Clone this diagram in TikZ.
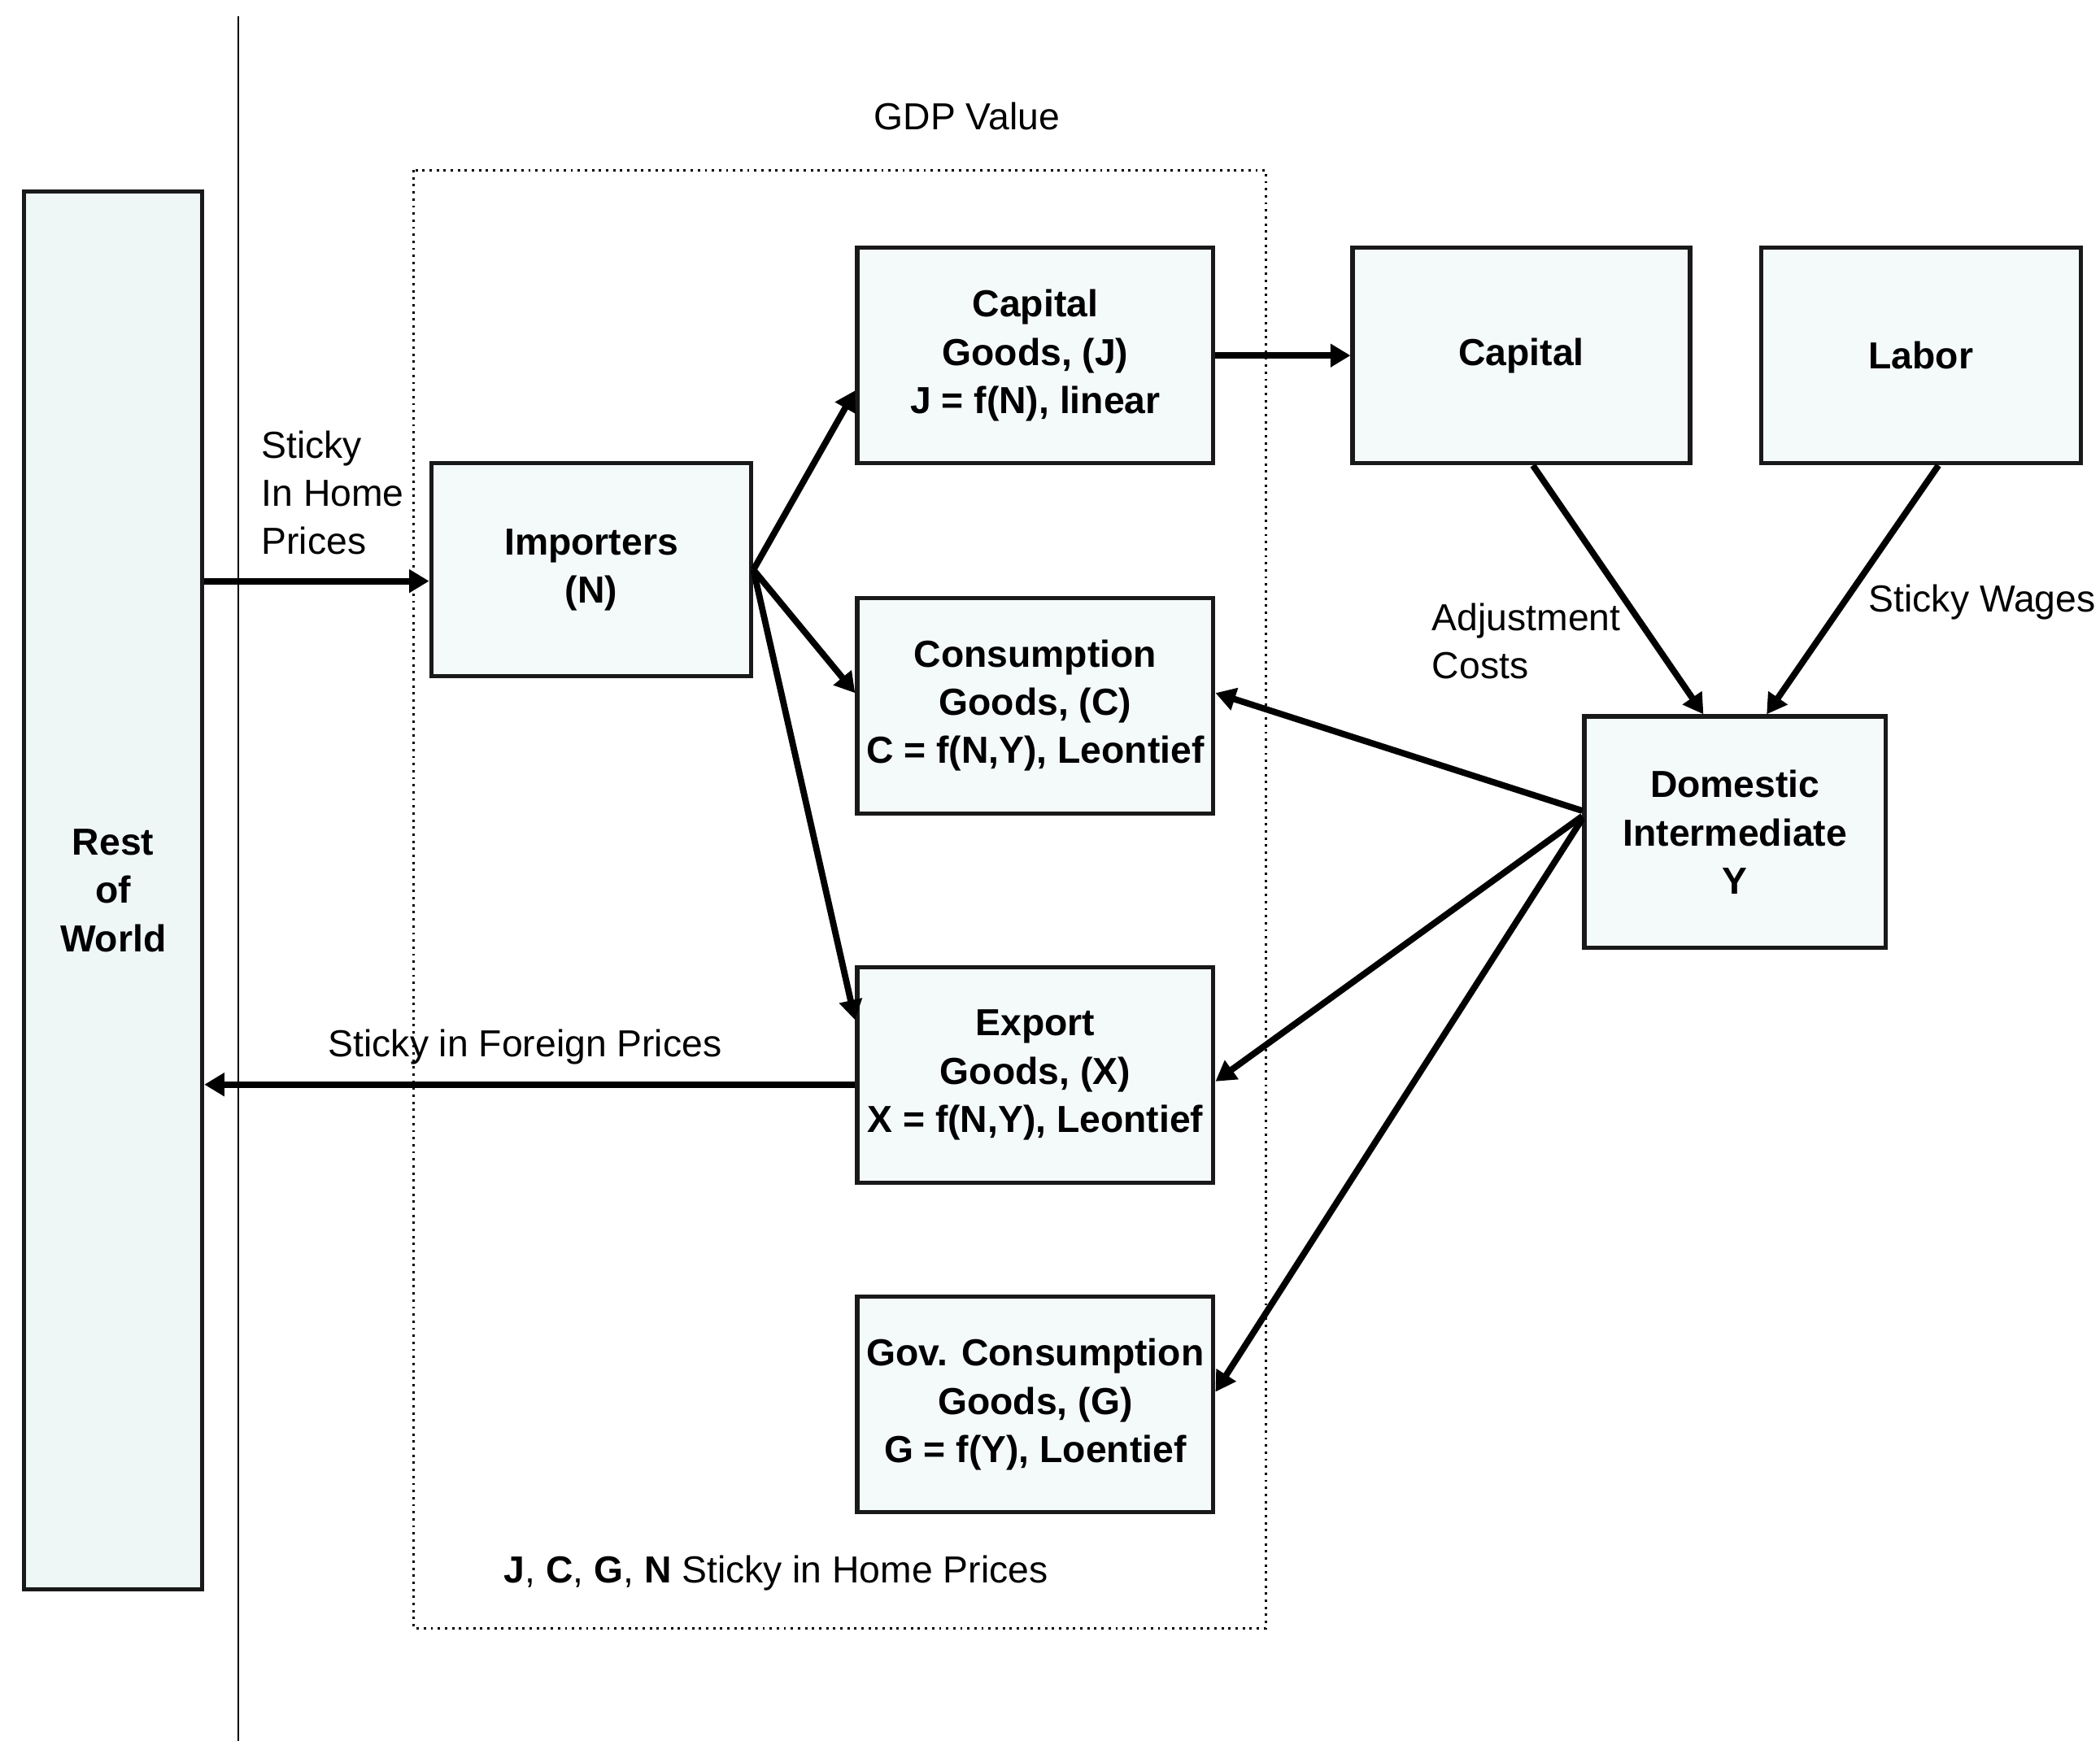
\documentclass[tikz,border=0pt]{standalone}
\usepackage{fontspec}
\setmainfont{Liberation Sans}
\usetikzlibrary{positioning,arrows.meta}
\definecolor{boxfill}{RGB}{244,249,249}
\definecolor{worldfill}{RGB}{238,246,246}
\tikzset{
	node distance=5.5cm,
	>={Triangle[length=8.5pt,width=9.5pt]},
	blok/.style={
		rectangle,
		draw=black!90,
		line width=1.8pt,
		fill=boxfill,
		align=center,
		font=\fontsize{16}{20.5}\selectfont\bfseries,
		minimum width=5.32cm,
		minimum height=3.22cm
	},
	flow/.style={->, line width=2.7pt},
	note/.style={font=\fontsize{16}{20.5}\selectfont, align=left, inner sep=0pt}
}
\begin{document}
\begin{tikzpicture}[x=0.02cm, y=-0.02cm]
	\useasboundingbox (0,0) rectangle (1568,1300);

	% border between home and foreign
	\draw[line width=0.9pt] (178,12) -- (178,1300);

	% GDP frame
	\draw[dotted, line width=1pt] (309,127) rectangle (945,1216);

	\node[blok, fill=worldfill, minimum width=2.66cm, minimum height=20.88cm] (world) at (84.5,665) {Rest\\of\\World};

	\node[blok] (capgoods) at (773,265.5) {Capital\\Goods, (J)\\J = f(N), linear};
	\node[blok, below of=capgoods, node distance=5.23cm] (consgoods) {Consumption\\Goods, (C)\\C = f(N,Y), Leontief};
	\node[blok, below of=consgoods, node distance=5.52cm] (expgoods) {Export\\Goods, (X)\\X = f(N,Y), Leontief};
	\node[blok, below of=expgoods, node distance=4.92cm] (govgoods) {Gov. Consumption\\Goods, (G)\\G = f(Y), Loentief};

	\node[blok, minimum width=4.78cm, minimum height=3.18cm] (importers) at (441.5,425.5) {Importers\\(N)};
	\node[blok, right of=capgoods, node distance=7.26cm, minimum width=5.04cm] (capital) {Capital};
	\node[blok, right of=capital, node distance=5.97cm, minimum width=4.78cm] (labor) {Labor};
	\node[blok, minimum width=4.5cm, minimum height=3.46cm] (domestic) at (1295.5,621.5) {Domestic\\Intermediate\\Y};

	\node[note] (gdplbl) at (722,87) {GDP Value};
	\node[note, anchor=west] (homelbl) at (195,368) {Sticky\\In Home\\Prices};
	\node[note] (foreignlbl) at (392,782) {Sticky in Foreign Prices};
	\node[note, anchor=west] (adjlbl) at (1069,479) {Adjustment\\Costs};
	\node[note, anchor=west] (wagelbl) at (1395,450) {Sticky Wages};
	\node[note, anchor=west] (homenote) at (376,1175) {\textbf{J}, \textbf{C}, \textbf{G}, \textbf{N} Sticky in Home Prices};

	\draw[flow] (world.east |- importers.184) -- (importers.184);
	\draw[flow] (importers.east) -- (capgoods.191);
	\draw[flow] (importers.east) -- (consgoods.176);
	\draw[flow] (importers.east) -- (expgoods.163);
	\draw[flow] (capgoods.east) -- (capital.west);
	\draw[flow] (capital.276) -- (domestic.105);
	\draw[flow] (labor.279) -- (domestic.75);
	\draw[flow] (domestic.172) -- (consgoods.4);
	\draw[flow] (domestic.174) -- (expgoods.-2);
	\draw[flow] (domestic.175) -- (govgoods.4);
	\draw[flow] (expgoods.183) -- (expgoods.183 -| world.east);
\end{tikzpicture}
\end{document}
